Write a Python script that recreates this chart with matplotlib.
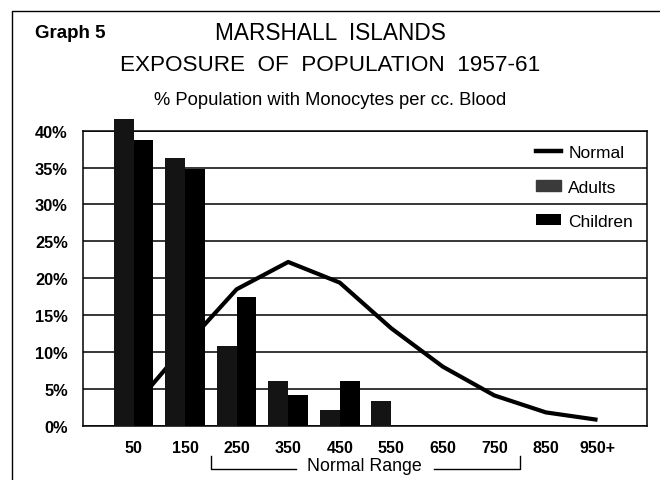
import matplotlib
matplotlib.use("Agg")
import matplotlib.pyplot as plt
import numpy as np
from matplotlib.lines import Line2D
from matplotlib.patches import Patch

plt.rcParams['font.family'] = ['Liberation Sans', 'DejaVu Sans']

categories = ["50", "150", "250", "350", "450", "550", "650", "750", "850", "950+"]
adults = [41.6, 36.3, 10.8, 6.0, 2.1, 3.3, 0, 0, 0, 0]
children = [38.7, 34.8, 17.5, 4.1, 6.1, 0, 0, 0, 0, 0]
normal = [2.6, 10.8, 18.5, 22.2, 19.4, 13.2, 8.0, 4.1, 1.8, 0.8]
yticks = [0, 5, 10, 15, 20, 25, 30, 35, 40]

fig = plt.figure(figsize=(6.6, 4.81), dpi=100)
ax = fig.add_axes([0.1258, 0.1129, 0.9803 - 0.1258, 0.6133])

x = np.arange(len(categories))
w = 0.385

ax.plot(x, normal, color='black', lw=3.0, zorder=2, solid_capstyle='butt', clip_on=False)
ax.bar(x - w / 2, adults, width=w, color='#141414', zorder=3, clip_on=False, linewidth=0)
ax.bar(x + w / 2, children, width=w, color='black', zorder=3, clip_on=False, linewidth=0)

ax.set_xlim(-0.98, 9.96)
ax.set_ylim(0, 40)
ax.set_yticks(yticks)
ax.set_yticklabels([f"{v}%" for v in yticks], fontsize=11.8, fontweight='bold')
ax.set_xticks(x)
ax.set_xticklabels(categories, fontsize=11.5, fontweight='bold')
ax.tick_params(length=0)
ax.tick_params(axis='x', pad=10)
ax.tick_params(axis='y', pad=11)
ax.yaxis.grid(True, color='black', lw=1.1)
ax.set_axisbelow(True)
for s in ax.spines.values():
    s.set_linewidth(1.1)

# legend
handles = [Line2D([0], [0], color='black', lw=3.2),
           Patch(facecolor='#3a3a3a', edgecolor='#3a3a3a', hatch='....'),
           Patch(facecolor='black')]
leg = ax.legend(handles, ['Normal', 'Adults', 'Children'], loc='upper right',
                bbox_to_anchor=(0.997, 0.992), frameon=False, fontsize=12.5,
                handlelength=1.45, handleheight=0.6, labelspacing=1.12,
                handletextpad=0.4, borderaxespad=0.3)

# Normal range bracket
tr = ax.get_xaxis_transform()
lo, hi = 1.5, 7.5
yb = -0.1468
ax.plot([lo, lo, 3.15], [yb + 0.044, yb, yb], color='black', lw=1.0, transform=tr, clip_on=False)
ax.plot([5.83, hi, hi], [yb, yb, yb + 0.044], color='black', lw=1.0, transform=tr, clip_on=False)
ax.text(4.47, yb + 0.012, 'Normal Range', transform=tr, ha='center', va='center', fontsize=12.8)

# titles
fig.text(0.053, 0.931, 'Graph 5', fontsize=13.5, fontweight='bold', ha='left', va='center')
fig.text(0.501, 0.931, 'MARSHALL  ISLANDS', fontsize=16.3, ha='center', va='center')
fig.text(0.500, 0.863, 'EXPOSURE  OF  POPULATION  1957-61', fontsize=16.2, ha='center', va='center')
fig.text(0.500, 0.792, '% Population with Monocytes per cc. Blood', fontsize=13.2, ha='center', va='center')

# outer frame
fig.add_artist(Line2D([12 / 660, 12 / 660, 1.0], [0.0, 1 - 12 / 481, 1 - 12 / 481],
                      color='black', lw=1.0, transform=fig.transFigure))

fig.savefig('out.png', dpi=100)
